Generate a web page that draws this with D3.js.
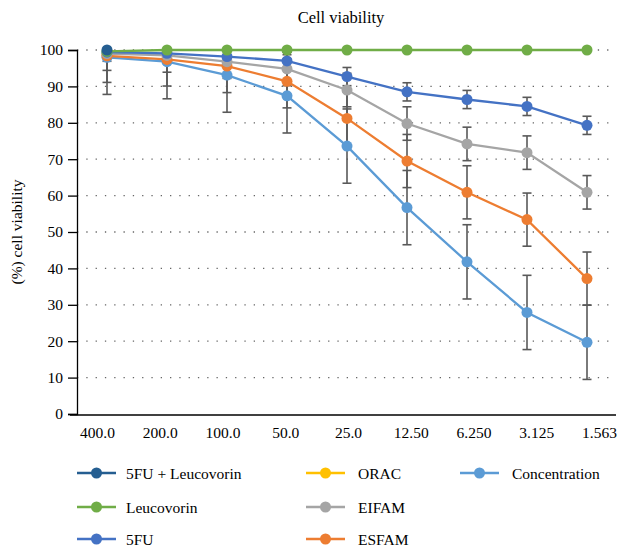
<!DOCTYPE html>
<html>
<head>
<meta charset="utf-8">
<script src="https://cdn.jsdelivr.net/npm/d3@7"></script>
<style>
  html, body { margin: 0; padding: 0; background: #fff; }
  svg { display: block; }
</style>
</head>
<body>
<svg id="chart" width="623" height="555"></svg>
<script>
// ---- data ----
const categories = ["400.0", "200.0", "100.0", "50.0", "25.0", "12.50", "6.250", "3.125", "1.563"];
const seriesNames = ["5FU + Leucovorin", "Leucovorin", "5FU", "ORAC", "EIFAM", "ESFAM", "Concentration"];
const fu5Leucovorin = [100, null, null, null, null, null, null, null, null];
const leucovorin = [99.6, 100, 100, 100, 100, 100, 100, 100, 100];
const fu5 = [99.4, 99.1, 98.2, 97.0, 92.7, 88.5, 86.4, 84.5, 79.3];
const orac = [98.6, null, null, null, null, null, null, null, null];
const eifam = [99.0, 98.5, 96.8, 94.8, 89.0, 79.8, 74.2, 71.8, 60.9];
const esfam = [98.4, 97.4, 95.6, 91.4, 81.2, 69.5, 60.9, 53.4, 37.2];
const concentration = [98.0, 96.8, 93.1, 87.4, 73.6, 56.7, 41.8, 27.9, 19.7];
const errFu5 = 2.5, errEifam = 4.6, errEsfam = 7.3, errConcentration = 10.2;
const yTicks = [0, 10, 20, 30, 40, 50, 60, 70, 80, 90, 100];
const colors = ["#255E91", "#70AD47", "#4472C4", "#FFC000", "#A5A5A5", "#ED7D31", "#5B9BD5"];

const series = [
  { name: seriesNames[0], values: fu5Leucovorin, err: 0, color: colors[0] },
  { name: seriesNames[1], values: leucovorin, err: 0, color: colors[1] },
  { name: seriesNames[2], values: fu5, err: errFu5, color: colors[2] },
  { name: seriesNames[3], values: orac, err: 0, color: colors[3] },
  { name: seriesNames[4], values: eifam, err: errEifam, color: colors[4] },
  { name: seriesNames[5], values: esfam, err: errEsfam, color: colors[5] },
  { name: seriesNames[6], values: concentration, err: errConcentration, color: colors[6] }
];
// draw order (last on top)
const drawOrder = [3, 6, 5, 4, 2, 1, 0];

const FONT = '"Liberation Serif", "DejaVu Serif", serif';

// ---- layout ----
const svg = d3.select("#chart");
const plotLeft = 77, plotRight = 617, plotTop = 50, plotBottom = 414;

const x = d3.scalePoint().domain(categories).range([plotLeft, plotRight]).padding(0.5);
const xLabels = d3.scalePoint().domain(categories).range([97, 599]).padding(0);
const y = d3.scaleLinear().domain([0, 100]).range([plotBottom, plotTop]);

svg.append("defs").append("clipPath").attr("id", "plotclip")
  .append("rect").attr("x", 0).attr("y", plotTop).attr("width", 623).attr("height", plotBottom - plotTop);

// title
svg.append("text").attr("x", 341).attr("y", 23).attr("text-anchor", "middle")
  .style("font-family", FONT).style("font-size", "16.5px").text("Cell viability");

// gridlines (dotted)
svg.append("g").selectAll("line").data(yTicks.filter(d => d > 0)).join("line")
  .attr("x1", plotLeft).attr("x2", 615)
  .attr("y1", d => y(d)).attr("y2", d => y(d))
  .attr("stroke", "#666").attr("stroke-width", 1.3)
  .attr("stroke-dasharray", "1.3,8");

// y axis
const yAxis = svg.append("g").attr("transform", `translate(${plotLeft},0)`)
  .call(d3.axisLeft(y).tickValues(yTicks).tickSize(9).tickPadding(5).tickFormat(d3.format("d")));
yAxis.attr("font-family", null);
yAxis.select(".domain").attr("stroke", "#000").attr("stroke-width", 1.3);
yAxis.selectAll(".tick line").attr("stroke", "#000").attr("stroke-width", 1.3);
yAxis.selectAll("text").style("font-family", FONT).style("font-size", "15.5px").attr("fill", "#000");

// x axis
svg.append("line").attr("x1", 70).attr("x2", 616).attr("y1", plotBottom + 1).attr("y2", plotBottom + 1)
  .attr("stroke", "#000").attr("stroke-width", 1.3);
const xAxis = svg.append("g").attr("transform", `translate(0,${plotBottom + 1})`)
  .call(d3.axisBottom(xLabels).tickSize(0).tickPadding(12));
xAxis.attr("font-family", null);
xAxis.select(".domain").remove();
xAxis.selectAll("text").style("font-family", FONT).style("font-size", "15.5px").attr("fill", "#000");

// y label
svg.append("text").attr("transform", "translate(22,232) rotate(-90)")
  .attr("text-anchor", "middle").style("font-family", FONT).style("font-size", "15.5px")
  .text("(%) cell viability");

// ---- series ----
const line = d3.line().defined(d => d.v != null).x(d => x(d.c)).y(d => y(d.v));
const plot = svg.append("g");

// error bars first (behind), clipped to the plot area
const errLayer = plot.append("g").attr("clip-path", "url(#plotclip)");
drawOrder.forEach(i => {
  const s = series[i];
  if (!s.err) return;
  const pts = s.values.map((v, j) => ({ c: categories[j], v })).filter(d => d.v != null);
  const g = errLayer.append("g").attr("stroke", "#595959").attr("stroke-width", 1.6);
  g.selectAll("line.v").data(pts).join("line").attr("class", "v")
    .attr("x1", d => x(d.c)).attr("x2", d => x(d.c))
    .attr("y1", d => y(d.v - s.err)).attr("y2", d => y(d.v + s.err));
  g.selectAll("line.t").data(pts).join("line").attr("class", "t")
    .attr("x1", d => x(d.c) - 4.5).attr("x2", d => x(d.c) + 4.5)
    .attr("y1", d => y(d.v + s.err)).attr("y2", d => y(d.v + s.err));
  g.selectAll("line.b").data(pts).join("line").attr("class", "b")
    .attr("x1", d => x(d.c) - 4.5).attr("x2", d => x(d.c) + 4.5)
    .attr("y1", d => y(d.v - s.err)).attr("y2", d => y(d.v - s.err));
});

drawOrder.forEach(i => {
  const s = series[i];
  const pts = s.values.map((v, j) => ({ c: categories[j], v }));
  plot.append("path").datum(pts).attr("d", line)
    .attr("fill", "none").attr("stroke", s.color).attr("stroke-width", 2.3);
  plot.append("g").selectAll("circle").data(pts.filter(d => d.v != null)).join("circle")
    .attr("cx", d => x(d.c)).attr("cy", d => y(d.v)).attr("r", 5.5)
    .attr("fill", s.color);
});

// ---- legend ----
const legendCols = [77, 306, 460];
const legendRows = [473, 507, 539];
const legendLayout = [[0, 0], [0, 1], [0, 2], [1, 0], [1, 1], [1, 2], [2, 0]];
const legend = svg.append("g");
series.forEach((s, i) => {
  const [c, r] = legendLayout[i];
  const lx = legendCols[c], ly = legendRows[r];
  legend.append("line").attr("x1", lx).attr("x2", lx + 39).attr("y1", ly).attr("y2", ly)
    .attr("stroke", s.color).attr("stroke-width", 2.3);
  legend.append("circle").attr("cx", lx + 19.5).attr("cy", ly).attr("r", 5.5).attr("fill", s.color);
  legend.append("text").attr("x", lx + (c === 0 ? 49 : 52)).attr("y", ly + 5.5)
    .style("font-family", FONT).style("font-size", "15.5px").text(s.name);
});
</script>
</body>
</html>
